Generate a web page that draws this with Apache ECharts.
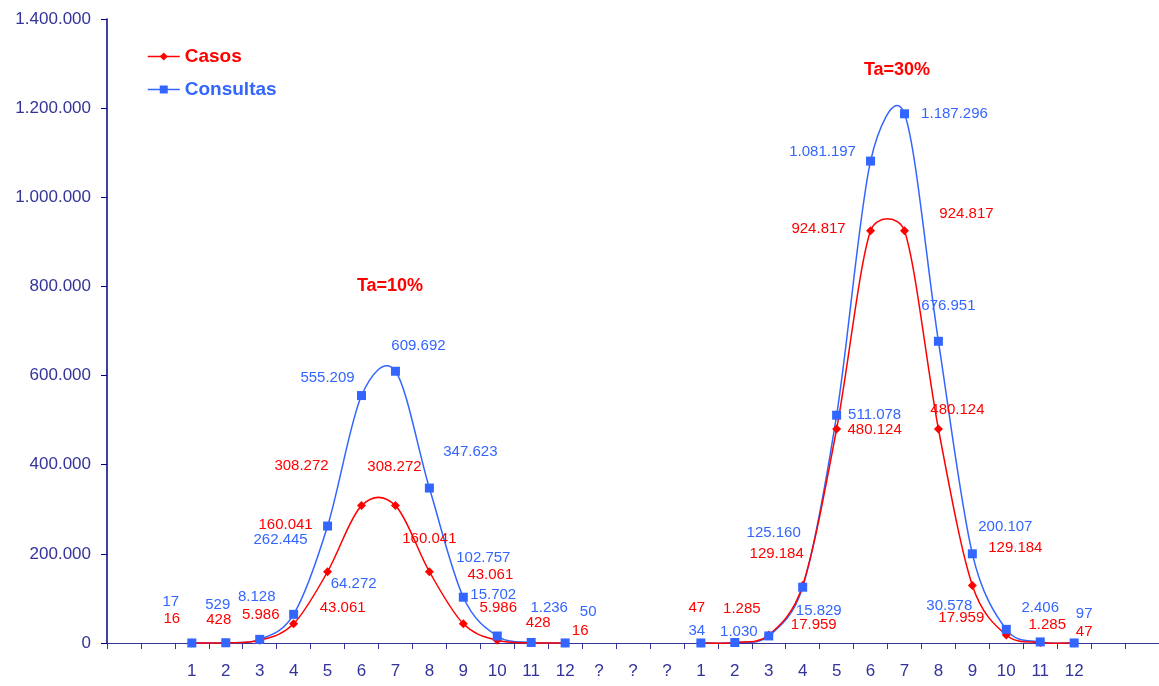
<!DOCTYPE html>
<html>
<head>
<meta charset="utf-8">
<script src="https://cdn.jsdelivr.net/npm/echarts@6/dist/echarts.min.js"></script>
<style>
html,body{margin:0;padding:0;background:#ffffff;}
#chart{width:1159px;height:686px;}
</style>
</head>
<body>
<div id="chart"></div>
<script>
// ---------- DATA ----------
const categories = ['', '', '1','2','3','4','5','6','7','8','9','10','11','12', '?','?','?',
                    '1','2','3','4','5','6','7','8','9','10','11','12', '', ''];
const casosTa10     = [16, 428, 5986, 43061, 160041, 308272, 308272, 160041, 43061, 5986, 428, 16];
const consultasTa10 = [17, 529, 8128, 64272, 262445, 555209, 609692, 347623, 102757, 15702, 1236, 50];
const casosTa30     = [47, 1285, 17959, 129184, 480124, 924817, 924817, 480124, 129184, 17959, 1285, 47];
const consultasTa30 = [34, 1030, 15829, 125160, 511078, 1081197, 1187296, 676951, 200107, 30578, 2406, 97];
const annotations = ['Ta=10%', 'Ta=30%'];
const group1Start = 2, group2Start = 17;
const yMin = 0, yMax = 1400000, yInterval = 200000;

// ---------- STYLE (label offsets in px, not data) ----------
const casosOff10 = [[-20,-24],[-7,-23],[1,-25],[49,-16],[-42,-47],[-60,-40],[-1,-39],[0,-33],[27,-49],[1,-32],[7,-20],[15,-12]];
const consOff10  = [[-21,-41],[-8,-38],[-3,-43],[60,-30],[-47,14],[-34,-18],[23,-25],[41,-36],[20,-39],[-4,-41],[18,-35],[23,-31]];
const casosOff30 = [[-4,-35],[7,-34],[45,-10],[-26,-32],[38,1],[-52,-2],[62,-17],[19,-19],[43,-38],[-45,-17],[7,-18],[10,-11]];
const consOff30  = [[-4,-12],[4,-11],[50,-25],[-29,-54],[38,0],[-48,-9],[50,0],[10,-35],[33,-27],[-57,-24],[0,-34],[10,-29]];

const RED = '#FF0000', BLUE = '#3366FF', AXIS = '#333399', NAVY = '#000080';
const FONT = 'Liberation Sans, Arial, Helvetica, sans-serif';
const TENSION = 1/6;      // spline tangent factor
const MAX_ARM = 0.5;      // max control arm as fraction of segment length

function fmt(v){ return String(Math.round(v)).replace(/\B(?=(\d{3})+(?!\d))/g, '.'); }

function buildLineData(g1, g2, off1, off2){
  const out = categories.map(() => null);
  g1.forEach((v,i) => { out[group1Start+i] = {value: v, label: {offset: off1[i]}}; });
  g2.forEach((v,i) => { out[group2Start+i] = {value: v, label: {offset: off2[i]}}; });
  return out;
}

function buildSegments(g1, g2){
  const segs = [];
  for (let i = 0; i < g1.length - 1; i++) segs.push([group1Start+i, g1[i], 0, i]);
  for (let i = 0; i < g2.length - 1; i++) segs.push([group2Start+i, g2[i], 1, i]);
  return segs;
}

// arm vector at point j (tangent * tension), clamped against segment length
function arm(P, j, n, segLen){
  const p = P(j);
  const prev = j > 0 ? P(j-1) : p;
  const next = j < n-1 ? P(j+1) : p;
  let ax = (next[0]-prev[0])*TENSION, ay = (next[1]-prev[1])*TENSION;
  const len = Math.hypot(ax, ay), lim = segLen*MAX_ARM;
  if (len > lim && len > 0) { ax *= lim/len; ay *= lim/len; }
  return [ax, ay];
}

function curveRenderer(groups, color){
  return function(params, api){
    const g = api.value(2), i = api.value(3);
    const vals = groups[g].values, start = groups[g].start, n = vals.length;
    const P = j => api.coord([start+j, vals[j]]);
    const p1 = P(i), p2 = P(i+1);
    const segLen = Math.hypot(p2[0]-p1[0], p2[1]-p1[1]);
    const a1 = arm(P, i, n, segLen), a2 = arm(P, i+1, n, segLen);
    return {
      type: 'bezierCurve',
      shape: {x1: p1[0], y1: p1[1], x2: p2[0], y2: p2[1],
              cpx1: p1[0]+a1[0], cpy1: p1[1]+a1[1], cpx2: p2[0]-a2[0], cpy2: p2[1]-a2[1]},
      style: {stroke: color, fill: 'none', lineWidth: 1.5},
      silent: true
    };
  };
}

const labelBase = {
  show: true, position: 'inside', align: 'center', verticalAlign: 'middle',
  fontSize: 15, fontFamily: FONT,
  formatter: p => fmt(p.value)
};

const chart = echarts.init(document.getElementById('chart'), null, {renderer: 'canvas'});
chart.setOption({
  animation: false,
  backgroundColor: '#ffffff',
  textStyle: {fontFamily: FONT},
  grid: {left: 107, right: 0, top: 19, bottom: 43, containLabel: false},
  legend: {
    orient: 'vertical', left: 142, top: 42, itemWidth: 32, itemHeight: 10, itemGap: 14,
    selectedMode: false,
    textStyle: {fontSize: 19, fontWeight: 'bold', fontFamily: FONT},
    lineStyle: {width: 1.5, opacity: 1},
    data: [
      {name: 'Casos', textStyle: {color: RED}},
      {name: 'Consultas', textStyle: {color: BLUE}}
    ]
  },
  xAxis: {
    type: 'category', data: categories, boundaryGap: true,
    axisLine: {lineStyle: {color: AXIS, width: 1.2}},
    axisTick: {show: true, interval: 0, length: 6, alignWithLabel: false, lineStyle: {color: AXIS}},
    axisLabel: {interval: 0, color: AXIS, fontSize: 17, margin: 20, fontFamily: FONT},
    splitLine: {show: false}
  },
  yAxis: {
    type: 'value', min: yMin, max: yMax, interval: yInterval,
    axisLine: {show: true, lineStyle: {color: NAVY, width: 1.5}},
    axisTick: {show: true, length: 6, lineStyle: {color: NAVY}},
    axisLabel: {color: AXIS, fontSize: 17, margin: 16, fontFamily: FONT, formatter: v => fmt(v)},
    splitLine: {show: false}
  },
  graphic: [
    {type: 'text', x: 390, y: 286, style: {text: annotations[0], fill: RED, fontSize: 18, fontWeight: 'bold', fontFamily: FONT, align: 'center', verticalAlign: 'middle'}},
    {type: 'text', x: 897, y: 70, style: {text: annotations[1], fill: RED, fontSize: 18, fontWeight: 'bold', fontFamily: FONT, align: 'center', verticalAlign: 'middle'}}
  ],
  series: [
    {
      name: 'consultasCurve', type: 'custom', coordinateSystem: 'cartesian2d', z: 2, silent: true,
      encode: {x: 0, y: 1},
      data: buildSegments(consultasTa10, consultasTa30),
      renderItem: curveRenderer([{values: consultasTa10, start: group1Start}, {values: consultasTa30, start: group2Start}], BLUE)
    },
    {
      name: 'casosCurve', type: 'custom', coordinateSystem: 'cartesian2d', z: 2, silent: true,
      encode: {x: 0, y: 1},
      data: buildSegments(casosTa10, casosTa30),
      renderItem: curveRenderer([{values: casosTa10, start: group1Start}, {values: casosTa30, start: group2Start}], RED)
    },
    {
      name: 'Casos', type: 'line', z: 3, silent: true,
      data: buildLineData(casosTa10, casosTa30, casosOff10, casosOff30),
      connectNulls: false, symbol: 'diamond', symbolSize: 9, showAllSymbol: true,
      itemStyle: {color: RED},
      lineStyle: {color: RED, width: 1.5, opacity: 0},
      label: Object.assign({}, labelBase, {color: RED}),
      emphasis: {disabled: true}
    },
    {
      name: 'Consultas', type: 'line', z: 4, silent: true,
      data: buildLineData(consultasTa10, consultasTa30, consOff10, consOff30),
      connectNulls: false, symbol: 'rect', symbolSize: 9, showAllSymbol: true,
      itemStyle: {color: BLUE},
      lineStyle: {color: BLUE, width: 1.5, opacity: 0},
      label: Object.assign({}, labelBase, {color: BLUE}),
      emphasis: {disabled: true}
    }
  ]
});
</script>
</body>
</html>
